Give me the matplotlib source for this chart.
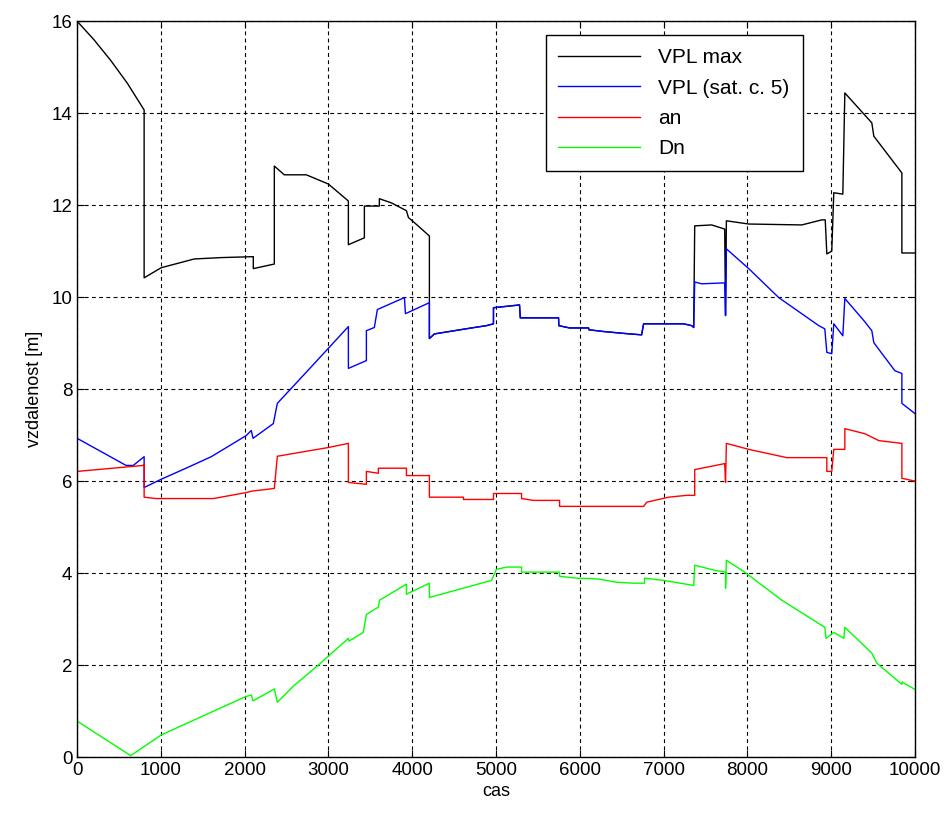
import matplotlib
matplotlib.use("Agg")
import matplotlib.pyplot as plt

plt.rcParams['font.family'] = ['Liberation Sans', 'DejaVu Sans']

# ---- data ----
vplmax_x = [0, 200, 400, 600, 800, 800, 1004, 1398, 1720, 2103, 2103, 2354, 2354, 2473, 2736,
            2999, 3238, 3238, 3429, 3429, 3608, 3608, 3751, 3931, 3955, 4026, 4205, 4205,
            4265, 4707, 4886, 4970, 4970, 5281, 5290, 5747, 5750, 5878, 6105, 6110, 6296,
            6535, 6738, 6762, 7240, 7336, 7360, 7372, 7575, 7730, 7740, 7750, 8017, 8650,
            8889, 8930, 8949, 9008, 9032, 9140, 9164, 9486, 9510, 9845, 9845, 10000]
vplmax_y = [16.0, 15.6, 15.15, 14.65, 14.07, 10.42, 10.64, 10.83, 10.86, 10.88, 10.62, 10.72,
            12.85, 12.66, 12.66, 12.46, 12.09, 11.14, 11.29, 11.98, 11.98, 12.14, 12.05, 11.88,
            11.73, 11.62, 11.33, 9.10, 9.20, 9.33, 9.38, 9.42, 9.77, 9.83, 9.55, 9.55, 9.38,
            9.33, 9.33, 9.29, 9.25, 9.21, 9.18, 9.42, 9.42, 9.38, 9.34, 11.55, 11.57, 11.48,
            9.60, 11.66, 11.59, 11.57, 11.68, 11.68, 10.94, 11.00, 12.27, 12.24, 14.44, 13.79,
            13.50, 12.70, 10.96, 10.96]

vpl_x = [0, 585, 670, 800, 800, 1004, 1300, 1601, 2019, 2079, 2100, 2342, 2390, 2640, 2975,
         3238, 3238, 3453, 3453, 3548, 3584, 3907, 3919, 4205, 4205, 4265, 4707, 4886, 4970,
         4970, 5281, 5290, 5747, 5750, 5878, 6105, 6110, 6296, 6535, 6738, 6762, 7240, 7336,
         7360, 7372, 7455, 7730, 7740, 7750, 8017, 8375, 8853, 8925, 8949, 9008, 9032, 9140,
         9164, 9391, 9486, 9510, 9761, 9845, 9845, 10000]
vpl_y = [6.93, 6.34, 6.34, 6.53, 5.86, 6.04, 6.28, 6.53, 6.99, 7.10, 6.93, 7.25, 7.69, 8.18,
         8.84, 9.36, 8.45, 8.62, 9.27, 9.34, 9.73, 9.99, 9.64, 9.88, 9.10, 9.20, 9.33, 9.38,
         9.42, 9.77, 9.83, 9.55, 9.55, 9.38, 9.33, 9.33, 9.29, 9.25, 9.21, 9.18, 9.42, 9.42,
         9.38, 9.34, 10.33, 10.29, 10.31, 9.60, 11.05, 10.62, 9.99, 9.38, 9.31, 8.80, 8.77,
         9.42, 9.16, 9.97, 9.49, 9.27, 9.01, 8.40, 8.34, 7.69, 7.47]

an_x = [0, 788, 800, 800, 944, 1625, 2019, 2079, 2354, 2390, 2999, 3238, 3238, 3453, 3453,
        3596, 3596, 3931, 3931, 4205, 4205, 4612, 4612, 4970, 4970, 5305, 5305, 5448, 5759,
        5759, 6762, 6798, 7061, 7276, 7372, 7372, 7730, 7740, 7750, 8017, 8471, 8949, 8949,
        9008, 9032, 9164, 9164, 9403, 9570, 9845, 9845, 10000]
an_y = [6.21, 6.34, 6.36, 5.65, 5.62, 5.62, 5.75, 5.78, 5.84, 6.54, 6.73, 6.82, 5.97, 5.93,
        6.21, 6.17, 6.28, 6.28, 6.12, 6.12, 5.65, 5.65, 5.60, 5.60, 5.73, 5.73, 5.62, 5.58,
        5.58, 5.45, 5.45, 5.54, 5.65, 5.69, 5.69, 6.25, 6.38, 5.97, 6.82, 6.69, 6.51, 6.51,
        6.21, 6.21, 6.69, 6.69, 7.14, 7.03, 6.88, 6.82, 6.06, 6.00]

dn_x = [0, 640, 1004, 1995, 2079, 2100, 2354, 2390, 2593, 2880, 3238, 3245, 3417, 3453, 3596,
        3610, 3931, 3931, 4205, 4205, 4946, 5005, 5126, 5305, 5305, 5759, 5759, 5962, 6225,
        6440, 6643, 6774, 6774, 7001, 7360, 7372, 7610, 7740, 7740, 7750, 7969, 8411, 8925,
        8940, 9032, 9152, 9164, 9486, 9546, 9845, 9850, 10000]
dn_y = [0.78, 0.03, 0.48, 1.30, 1.35, 1.22, 1.48, 1.19, 1.56, 2.00, 2.58, 2.52, 2.71, 3.10,
        3.26, 3.41, 3.76, 3.54, 3.78, 3.47, 3.84, 4.08, 4.13, 4.13, 4.02, 4.02, 3.93, 3.89,
        3.87, 3.80, 3.78, 3.78, 3.89, 3.84, 3.73, 4.17, 4.06, 4.02, 3.67, 4.28, 4.02, 3.41,
        2.82, 2.58, 2.71, 2.58, 2.82, 2.26, 2.04, 1.58, 1.63, 1.47]

labels = ['VPL max', 'VPL (sat. c. 5)', 'an', 'Dn']
colors = ['#000000', '#0000ff', '#ff0000', '#00ff00']
x_ticks = list(range(0, 10001, 1000))
y_ticks = list(range(0, 17, 2))

# ---- plot ----
fig = plt.figure(figsize=(9.52, 8.16), dpi=100)
ax = fig.add_axes([0.081, 0.0723, 0.880, 0.9017])

series = [(vplmax_x, vplmax_y), (vpl_x, vpl_y), (an_x, an_y), (dn_x, dn_y)]
for (xs, ys), lab, c in zip(series, labels, colors):
    ax.plot(xs, ys, color=c, lw=1.0, label=lab)

ax.set_xlim(0, 10000)
ax.set_ylim(0, 16)
ax.set_xticks(x_ticks)
ax.set_yticks(y_ticks)
ax.tick_params(direction='in', top=True, right=True, labelsize=13.5, length=5, width=0.8)
ax.grid(True, color='k', linestyle=(0, (3.5, 3)), lw=0.8)
for s in ax.spines.values():
    s.set_linewidth(1.0)
ax.set_xlabel('cas', fontsize=13, labelpad=3)
ax.set_ylabel('vzdalenost [m]', fontsize=13, labelpad=6)

leg = ax.legend(loc='upper right', bbox_to_anchor=(0.866, 0.981), fontsize=15,
                fancybox=False, framealpha=1, edgecolor='k', handlelength=3.9,
                borderpad=0.62, labelspacing=0.55, handletextpad=0.9, borderaxespad=0)
leg.get_frame().set_linewidth(1.0)

fig.savefig('out.png', dpi=100)
